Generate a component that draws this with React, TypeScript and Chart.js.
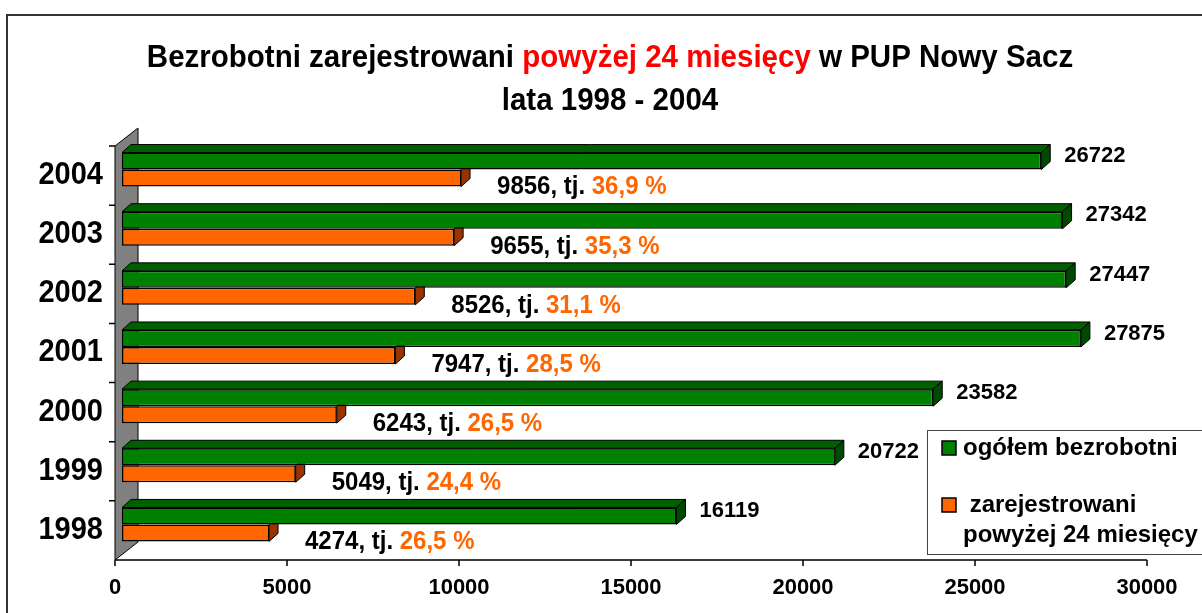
import React, { useEffect, useRef } from 'react';
import { Chart, registerables } from 'chart.js';

Chart.register(...registerables);

const years = ['2004', '2003', '2002', '2001', '2000', '1999', '1998'];
const totalUnemployed = [26722, 27342, 27447, 27875, 23582, 20722, 16119];
const longTermUnemployed = [9856, 9655, 8526, 7947, 6243, 5049, 4274];
const longTermShare = ['36,9', '35,3', '31,1', '28,5', '26,5', '24,4', '26,5'];
const seriesNames = ['ogółem bezrobotni', 'zarejestrowani powyżej 24 miesięcy'];
const titleLine1 = [
  { text: 'Bezrobotni zarejestrowani ', red: false },
  { text: 'powyżej 24 miesięcy', red: true },
  { text: ' w PUP Nowy Sacz', red: false },
];
const titleLine2 = 'lata 1998 - 2004';
const xMin = 0;
const xMax = 30000;
const xStep = 5000;

const FONT = '"Liberation Sans", Arial, Helvetica, sans-serif';
const GREEN = '#008000';
const GREEN_TOP = '#006000';
const GREEN_END = '#004a00';
const ORANGE = '#FF6600';
const ORANGE_END = '#993300';
const BAR_DX = 9;
const BAR_DY = 8;
const OFF_X = 7;
const OFF_Y = 6;
const WALL_DX = 23;
const WALL_DY = 18;

function poly(ctx: CanvasRenderingContext2D, pts: number[][], fill: string) {
  ctx.beginPath();
  ctx.moveTo(pts[0][0], pts[0][1]);
  for (let i = 1; i < pts.length; i++) ctx.lineTo(pts[i][0], pts[i][1]);
  ctx.closePath();
  ctx.fillStyle = fill;
  ctx.fill();
  ctx.strokeStyle = '#000';
  ctx.lineWidth = 1;
  ctx.stroke();
}

function text(ctx: CanvasRenderingContext2D, s: string, x: number, y: number, sy: number) {
  ctx.save();
  ctx.translate(x, y);
  ctx.scale(1, sy);
  ctx.fillText(s, 0, 0);
  ctx.restore();
}

const decorPlugin = {
  id: 'decor3d',
  beforeDatasetsDraw(chart: any) {
    const ctx: CanvasRenderingContext2D = chart.ctx;
    const xs = chart.scales.x;
    const ca = chart.chartArea;
    ctx.save();
    ctx.strokeStyle = '#333';
    ctx.lineWidth = 2;
    ctx.beginPath();
    ctx.moveTo(7, 620);
    ctx.lineTo(7, 15);
    ctx.lineTo(1210, 15);
    ctx.stroke();

    const fx0 = xs.getPixelForValue(xMin) - OFF_X;
    const fTop = ca.top + OFF_Y;
    const fBot = ca.bottom + OFF_Y;
    poly(ctx, [[fx0, fTop], [fx0 + WALL_DX, fTop - WALL_DY], [fx0 + WALL_DX, fBot - WALL_DY], [fx0, fBot]], '#808080');

    chart.data.datasets.forEach((_ds: any, di: number) => {
      const meta = chart.getDatasetMeta(di);
      meta.data.forEach((el: any) => {
        const p = el.getProps(['x', 'y', 'base', 'height'], true);
        const top = p.y - p.height / 2;
        const bot = p.y + p.height / 2;
        if (di === 0) {
          poly(ctx, [[p.base, top], [p.base + BAR_DX, top - BAR_DY], [p.x + BAR_DX, top - BAR_DY], [p.x, top]], GREEN_TOP);
        }
        poly(ctx, [[p.x, top], [p.x + BAR_DX, top - BAR_DY], [p.x + BAR_DX, bot - BAR_DY], [p.x, bot]], di === 0 ? GREEN_END : ORANGE_END);
      });
    });
    ctx.restore();
  },
  afterDatasetsDraw(chart: any) {
    const ctx: CanvasRenderingContext2D = chart.ctx;
    const xs = chart.scales.x;
    const ys = chart.scales.y;
    const ca = chart.chartArea;
    ctx.save();
    const fx0 = xs.getPixelForValue(xMin) - OFF_X;
    const fx1 = xs.getPixelForValue(xMax) - OFF_X;
    const fTop = ca.top + OFF_Y;
    const fBot = ca.bottom + OFF_Y;

    ctx.strokeStyle = '#000';
    ctx.lineWidth = 1.5;
    ctx.beginPath();
    ctx.moveTo(fx0, fBot);
    ctx.lineTo(fx1, fBot);
    xs.ticks.forEach((t: any) => {
      const px = xs.getPixelForValue(t.value) - OFF_X;
      ctx.moveTo(px, fBot);
      ctx.lineTo(px, fBot + 6);
    });
    const n = years.length;
    const band = (fBot - fTop) / n;
    for (let i = 0; i < n; i++) {
      const py = fTop + i * band;
      ctx.moveTo(fx0 - 6, py);
      ctx.lineTo(fx0, py);
    }
    ctx.stroke();

    ctx.textBaseline = 'middle';
    ctx.fillStyle = '#000';
    ctx.font = `bold 22px ${FONT}`;
    ctx.textAlign = 'center';
    xs.ticks.forEach((t: any) => {
      const px = xs.getPixelForValue(t.value) - OFF_X;
      text(ctx, String(t.value), px, fBot + 28, 1.03);
    });

    ctx.font = `bold 29px ${FONT}`;
    ctx.textAlign = 'right';
    years.forEach((y, i) => {
      text(ctx, y, fx0 - 12, ys.getPixelForValue(i) + OFF_Y, 1.06);
    });

    const m0 = chart.getDatasetMeta(0);
    const m1 = chart.getDatasetMeta(1);
    ctx.textAlign = 'left';
    ctx.font = `bold 22px ${FONT}`;
    m0.data.forEach((el: any, i: number) => {
      const p = el.getProps(['x', 'y'], true);
      ctx.fillStyle = '#000';
      text(ctx, String(totalUnemployed[i]), p.x + 23, p.y - 5, 1.03);
    });
    ctx.font = `bold 24px ${FONT}`;
    m1.data.forEach((el: any, i: number) => {
      const p = el.getProps(['x', 'y'], true);
      const a = `${longTermUnemployed[i]}, tj. `;
      const b = `${longTermShare[i]} %`;
      const lx = p.x + 36;
      const ly = p.y + 9;
      ctx.fillStyle = '#000';
      text(ctx, a, lx, ly, 1.1);
      ctx.fillStyle = ORANGE;
      text(ctx, b, lx + ctx.measureText(a).width, ly, 1.1);
    });

    ctx.font = `bold 29.5px ${FONT}`;
    ctx.textBaseline = 'alphabetic';
    const cx = 610;
    const total = titleLine1.reduce((s, p) => s + ctx.measureText(p.text).width, 0);
    let tx = cx - total / 2;
    titleLine1.forEach((p) => {
      ctx.fillStyle = p.red ? '#FF0000' : '#000';
      text(ctx, p.text, tx, 67, 1.06);
      tx += ctx.measureText(p.text).width;
    });
    ctx.fillStyle = '#000';
    ctx.textAlign = 'center';
    text(ctx, titleLine2, cx, 110, 1.06);

    ctx.fillStyle = '#fff';
    ctx.fillRect(927, 430, 290, 124);
    ctx.strokeStyle = '#444';
    ctx.lineWidth = 1;
    ctx.strokeRect(927.5, 430.5, 300, 124);
    ctx.lineWidth = 1.5;
    ctx.fillStyle = GREEN;
    ctx.fillRect(942, 441, 14, 14);
    ctx.strokeStyle = '#000';
    ctx.strokeRect(942, 441, 14, 14);
    ctx.fillStyle = ORANGE;
    ctx.fillRect(942, 498, 14, 14);
    ctx.strokeRect(942, 498, 14, 14);
    ctx.fillStyle = '#000';
    ctx.textAlign = 'left';
    ctx.font = `bold 24px ${FONT}`;
    text(ctx, seriesNames[0], 963, 455, 1.0);
    const words = seriesNames[1].split(' ');
    text(ctx, ' ' + words[0], 963, 512, 1.0);
    text(ctx, words.slice(1).join(' '), 963, 542, 1.0);
    ctx.restore();
  },
};

export default function App() {
  const ref = useRef<HTMLCanvasElement | null>(null);
  useEffect(() => {
    if (!ref.current) return;
    const chart = new Chart(ref.current, {
      type: 'bar',
      data: {
        labels: years,
        datasets: [
          {
            label: seriesNames[0],
            data: totalUnemployed,
            backgroundColor: GREEN,
            borderColor: '#000',
            borderWidth: 1.5,
            borderSkipped: false,
          },
          {
            label: seriesNames[1],
            data: longTermUnemployed,
            backgroundColor: ORANGE,
            borderColor: '#000',
            borderWidth: 1.5,
            borderSkipped: false,
          },
        ],
      },
      options: {
        indexAxis: 'y',
        responsive: false,
        animation: false,
        devicePixelRatio: 1,
        layout: { padding: { left: 122, right: 48, top: 140, bottom: 59 } },
        datasets: { bar: { categoryPercentage: 0.575, barPercentage: 1.0 } },
        scales: {
          x: { display: false, min: xMin, max: xMax, ticks: { stepSize: xStep } },
          y: { display: false },
        },
        plugins: { legend: { display: false }, title: { display: false }, tooltip: { enabled: false } },
      },
      plugins: [decorPlugin],
    } as any);
    return () => chart.destroy();
  }, []);
  return (
    <div style={{ position: 'fixed', left: 0, top: 0, width: 1202, height: 613, background: '#fff' }}>
      <canvas ref={ref} width={1202} height={613} style={{ display: 'block' }} />
    </div>
  );
}
